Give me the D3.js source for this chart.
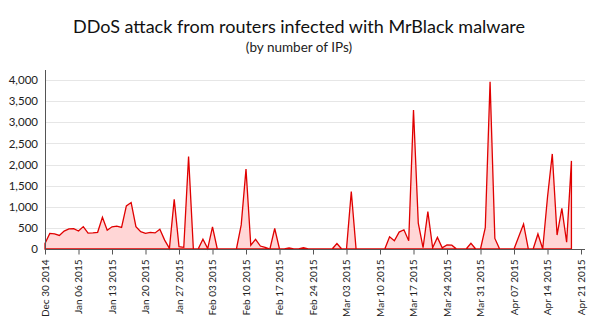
<!DOCTYPE html>
<html>
<head>
<meta charset="utf-8">
<script src="https://cdn.jsdelivr.net/npm/d3@7/dist/d3.min.js"></script>
<style>
  html, body { margin: 0; padding: 0; background: #fff; }
  svg { display: block; font-family: Lato, "Open Sans", sans-serif; }
</style>
</head>
<body>
<svg id="chart" width="598" height="330"></svg>
<script>
// Daily count of attacking router IPs, starting 2014-12-30
const startDate = "2014-12-30";
const ipCounts = [
  130, 370, 360, 320, 425, 475, 480, 425, 530, 375,
  380, 395, 750, 445, 525, 540, 510, 1020, 1100, 530,
  410, 370, 395, 380, 465, 210, 15, 1175, 55, 40,
  2190, 0, 0, 230, 10, 525, 0, 0, 0, 0,
  0, 570, 1890, 90, 230, 70, 40, 0, 485, 0,
  0, 25, 5, 5, 30, 5, 0, 0, 5, 0,
  0, 130, 0, 0, 1360, 0, 0, 0, 0, 0,
  0, 0, 290, 195, 400, 455, 195, 3290, 610, 30,
  885, 30, 275, 30, 95, 90, 0, 0, 0, 135,
  0, 0, 505, 3960, 250, 0, 0, 0, 0, 295,
  590, 0, 0, 355, 0, 1225, 2250, 330, 960, 160,
  2085
];
const tickDates = [
  "2014-12-30", "2015-01-06", "2015-01-13", "2015-01-20", "2015-01-27",
  "2015-02-03", "2015-02-10", "2015-02-17", "2015-02-24", "2015-03-03",
  "2015-03-10", "2015-03-17", "2015-03-24", "2015-03-31", "2015-04-07",
  "2015-04-14", "2015-04-21"
];
const yTicks = [0, 500, 1000, 1500, 2000, 2500, 3000, 3500, 4000];
const titleText = "DDoS attack from routers infected with MrBlack malware";
const subtitleText = "(by number of IPs)";

const parse = d3.utcParse("%Y-%m-%d");
const t0 = parse(startDate);
const series = ipCounts.map((v, i) => ({ date: d3.utcDay.offset(t0, i), value: v }));
const ticks = tickDates.map(parse);

const svg = d3.select("#chart");
const plotLeft = 45, plotRight = 581, plotTop = 80, plotBottom = 249, gridRight = 585;

const x = d3.scaleUtc().domain([ticks[0], ticks[ticks.length - 1]]).range([plotLeft, plotRight]);
const y = d3.scaleLinear().domain([0, 4000]).range([plotBottom, plotTop]);

// titles
svg.append("text")
  .attr("x", 299).attr("y", 33)
  .attr("text-anchor", "middle")
  .attr("font-size", 18).attr("fill", "#111")
  .text(titleText);
svg.append("text")
  .attr("x", 299).attr("y", 52)
  .attr("text-anchor", "middle")
  .attr("font-size", 13.5).attr("fill", "#222")
  .text(subtitleText);

// horizontal grid
svg.append("g")
  .selectAll("line")
  .data(yTicks.filter(d => d > 0))
  .join("line")
  .attr("x1", plotLeft).attr("x2", gridRight)
  .attr("y1", d => Math.round(y(d)) + 0.5).attr("y2", d => Math.round(y(d)) + 0.5)
  .attr("stroke", "#e6e6e6").attr("stroke-width", 1);

// y axis labels
const yAxis = d3.axisLeft(y).tickValues(yTicks).tickSize(0).tickPadding(7)
  .tickFormat(d3.format(","));
const gy = svg.append("g").attr("transform", `translate(${plotLeft},0)`).call(yAxis);
gy.select(".domain").remove();
gy.selectAll("text").attr("font-family", "Lato, sans-serif").attr("font-size", 11.5).attr("fill", "#222");

// area + outline
const area = d3.area().x(d => x(d.date)).y0(y(0)).y1(d => y(d.value));
svg.append("path")
  .datum(series)
  .attr("d", area)
  .attr("fill", "#ffd6d6")
  .attr("stroke", "#e00000")
  .attr("stroke-width", 1.3)
  .attr("stroke-linejoin", "miter");

// y axis line
svg.append("line")
  .attr("x1", plotLeft + 0.5).attr("x2", plotLeft + 0.5)
  .attr("y1", plotTop - 10).attr("y2", plotBottom)
  .attr("stroke", "#555").attr("stroke-width", 1);

// x axis
const xAxis = d3.axisBottom(x).tickValues(ticks).tickSize(5).tickPadding(4)
  .tickFormat(d3.utcFormat("%b %d %Y"));
const gx = svg.append("g").attr("transform", `translate(0,${plotBottom + 0.5})`).call(xAxis);
gx.select(".domain").attr("d", `M${plotLeft},0H${gridRight}`).attr("stroke", "#555");
gx.selectAll(".tick line").attr("stroke", "#555");
gx.selectAll("text")
  .attr("font-family", "Lato, sans-serif")
  .attr("font-size", 10).attr("fill", "#222")
  .attr("transform", "rotate(-90)")
  .attr("text-anchor", "end")
  .attr("dx", "-0.6em").attr("dy", "0.32em")
  .attr("y", 0).attr("x", -4);
</script>
</body>
</html>
